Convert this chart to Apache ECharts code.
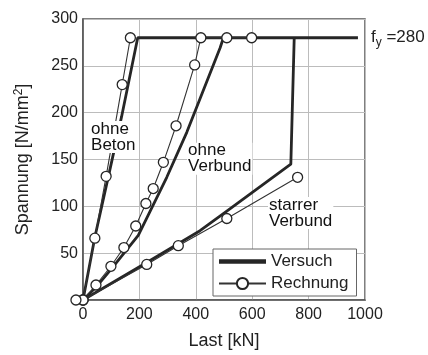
<!DOCTYPE html>
<html>
<head>
<meta charset="utf-8">
<script src="https://cdn.jsdelivr.net/npm/echarts@6/dist/echarts.min.js"></script>
<style>html,body{margin:0;padding:0;background:#fff}#c{width:428px;height:355px}</style>
</head>
<body>
<div id="c"></div>
<script>
// ---- data ----
var xTicks = [0, 200, 400, 600, 800, 1000];
var yTicks = [0, 50, 100, 150, 200, 250, 300];
var fy = 280;

// Versuch (test) curves [Last kN, Spannung N/mm2]
var versuchOhneBeton = [[0,0],[42,67],[96,140],[137,196],[194,280],[975,280]];
var versuchOhneVerbund = [[0,0],[50,15],[100,33],[196,69],[297,131],[368,179],[486,269],[498,280]];
var versuchStarrer = [[0,0],[226,40],[415,74],[510,95],[737,145],[749,280]];

// Rechnung (calculation) curves
var rechnungOhneBeton = [[0,0],[42,66],[82,132],[139,230],[168,280]];
var rechnungOhneVerbund = [[0,0],[46,16],[99,36],[145,56],[187,79],[223,103],[249,119],[285,147],[330,186],[396,251],[418,280],[510,280],[598,280]];
var rechnungStarrer = [[0,0],[226,38],[338,58],[510,87],[761,131]];
var rechnungExtra = [[-25,0]];

// annotation labels [x, y, text]
var annotations = [
  [25, 191, 'ohne\nBeton'],
  [369, 168, 'ohne\nVerbund'],
  [656, 110, 'starrer\nVerbund']
];

var dark = '#262626';
var chart = echarts.init(document.getElementById('c'));

function versuch(data, extra) {
  var s = {
    name: 'Versuch', type: 'line', data: data, symbol: 'none',
    lineStyle: {color: dark, width: 2.8}, itemStyle: {color: dark}, z: 3
  };
  if (extra) for (var k in extra) s[k] = extra[k];
  return s;
}
function rechnung(data, extra) {
  var s = {
    name: 'Rechnung', type: 'line', data: data, symbol: 'circle', symbolSize: 10,
    showAllSymbol: true,
    lineStyle: {color: '#333', width: 1.1},
    itemStyle: {color: '#fff', borderColor: dark, borderWidth: 1.3}, z: 4
  };
  if (extra) for (var k in extra) s[k] = extra[k];
  return s;
}

var font = 'Liberation Sans, Arial, sans-serif';

chart.setOption({
  animation: false,
  textStyle: {fontFamily: font, color: '#222'},
  grid: {left: 83, right: 63, top: 19, bottom: 54, show: true, borderColor: '#555', borderWidth: 1.5, backgroundColor: 'transparent'},
  legend: {
    orient: 'vertical', left: 213, top: 249,
    data: [
      {name: 'Versuch', icon: 'path://M0,0 L10,0 L10,1 L0,1 Z'},
      {name: 'Rechnung'}
    ],
    itemWidth: 47, itemHeight: 14, itemGap: 5,
    padding: [4, 8, 4, 5],
    borderColor: '#666', borderWidth: 1, backgroundColor: '#fff',
    textStyle: {fontSize: 17, color: '#222', fontFamily: font},
    selectedMode: false
  },
  xAxis: {
    type: 'value', min: xTicks[0], max: xTicks[xTicks.length - 1], interval: xTicks[1] - xTicks[0],
    name: 'Last [kN]', nameLocation: 'middle', nameGap: 32,
    nameTextStyle: {fontSize: 18, color: '#222'},
    axisLine: {show: true, lineStyle: {color: '#555', width: 1.5}},
    axisTick: {show: false},
    axisLabel: {fontSize: 16, color: '#222', margin: 7, formatter: function (v) { return String(v); }},
    splitLine: {show: true, lineStyle: {color: '#bcbcbc', width: 1}}
  },
  yAxis: {
    type: 'value', min: yTicks[0], max: yTicks[yTicks.length - 1], interval: yTicks[1] - yTicks[0],
    name: 'Spannung [N/mm{sup|2}]', nameLocation: 'middle', nameGap: 50,
    nameTextStyle: {fontSize: 18, color: '#222', rich: {sup: {fontSize: 12, verticalAlign: 'top', padding: [0, 0, 8, 0], color: '#222'}}},
    axisLine: {show: true, lineStyle: {color: '#555', width: 1.5}},
    axisTick: {show: false},
    axisLabel: {fontSize: 16, color: '#222', margin: 5, formatter: function (v) { return v === 0 ? '' : String(v); }},
    splitLine: {show: true, lineStyle: {color: '#bcbcbc', width: 1}}
  },
  series: [
    versuch(versuchOhneBeton, {
      endLabel: {
        show: true, distance: 13, fontSize: 17, color: '#222',
        formatter: 'f{sub|y} =' + fy,
        rich: {sub: {fontSize: 12, verticalAlign: 'bottom', padding: [10, 0, 0, 0], color: '#222'}}
      }
    }),
    versuch(versuchOhneVerbund),
    versuch(versuchStarrer),
    rechnung(rechnungOhneBeton),
    rechnung(rechnungOhneVerbund),
    rechnung(rechnungStarrer),
    rechnung(rechnungExtra, {clip: false}),
    {
      type: 'scatter', silent: true, z: 6,
      data: annotations.map(function (a) { return {value: [a[0], a[1]], name: a[2]}; }),
      symbolSize: 0,
      itemStyle: {opacity: 1},
      label: {
        show: true, position: [0, 0], align: 'left', verticalAlign: 'top',
        formatter: '{b}', fontSize: 17, lineHeight: 16, color: '#111', opacity: 1,
        backgroundColor: '#fff', padding: [0, 1, 0, 1]
      }
    }
  ]
});
</script>
</body>
</html>
